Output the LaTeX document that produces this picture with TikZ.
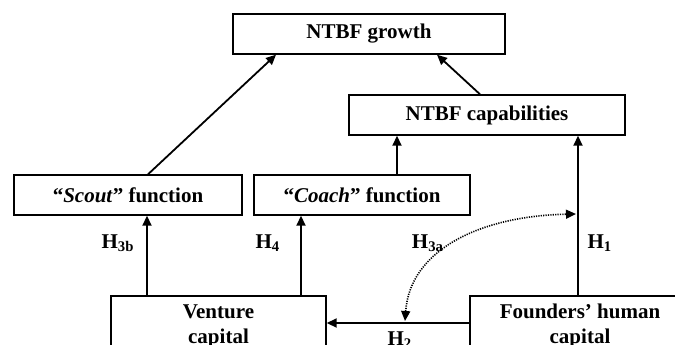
\documentclass[tikz,border=0pt]{standalone}
\usepackage{fontspec}
\setmainfont{Liberation Serif}
\usetikzlibrary{arrows.meta,calc}
\begin{document}
\begin{tikzpicture}[x=0.5pt,y=-0.5pt,
    box/.style={draw,line width=0.7pt,font=\fontsize{10.5}{12.5}\selectfont\bfseries,align=center,inner sep=0pt},
    arr/.style={line width=0.9pt,-{Triangle[length=5pt,width=4.5pt]}},
    hyp/.style={font=\fontsize{10.5}{12.5}\selectfont\bfseries}]
    \useasboundingbox (0,0) rectangle (675,344);
    \coordinate (G) at (369,34);
    \coordinate (C) at (487,115);
    \coordinate (S) at (128,195);
    \coordinate (K) at (362,195);
    \coordinate (V) at (218.5,326);
    \coordinate (F) at (580,326);
    \coordinate (dlow) at (405,321);
    \coordinate (dhigh) at (576,214);
    \node[box,minimum width=136pt,minimum height=20pt] (growth) at (G) {NTBF growth};
    \node[box,minimum width=138pt,minimum height=20pt] (capab) at (C) {NTBF capabilities};
    \node[box,minimum width=114pt,minimum height=20pt] (scout) at (S) {“\textit{Scout}” function};
    \node[box,minimum width=108pt,minimum height=20pt] (coach) at (K) {“\textit{Coach}” function};
    \node[box,minimum width=107.5pt,minimum height=30pt] (venture) at (V) {Venture\\capital};
    \node[box,minimum width=110pt,minimum height=30pt] (founders) at (F) {Founders’ human\\capital};
    \node[hyp] (h3b) at (118,243) {H\textsubscript{3b}};
    \node[hyp] (h4) at (268,243) {H\textsubscript{4}};
    \node[hyp] (h3a) at (428,243) {H\textsubscript{3a}};
    \node[hyp] (h1) at (600,243) {H\textsubscript{1}};
    \node[hyp] (h2) at (400,340) {H\textsubscript{2}};
    \draw[arr] ($(scout.north)+(20,0)$) -- ($(growth.south)+(-93,0)$);
    \draw[arr] ($(capab.north)+(-7,0)$) -- ($(growth.south)+(68,0)$);
    \draw[arr] ($(coach.north)+(35,0)$) -- ($(capab.south)+(-90,0)$);
    \draw[arr] ($(founders.north)+(-2,0)$) -- ($(capab.south)+(91,0)$);
    \draw[arr] ($(venture.north)+(-71.5,0)$) -- ($(scout.south)+(19,0)$);
    \draw[arr] ($(venture.north)+(82.5,0)$) -- ($(coach.south)+(-61,0)$);
    \draw[arr] ($(founders.west)+(0,-3)$) -- ($(venture.east)+(0,-3)$);
    \draw[line width=0.8pt,dash pattern=on 0.6pt off 0.6pt,{Triangle[length=5pt,width=4.5pt]}-{Triangle[length=5pt,width=4.5pt]}]
      (dlow) .. controls (410,250) and (480,216) .. (dhigh);
\end{tikzpicture}
\end{document}
